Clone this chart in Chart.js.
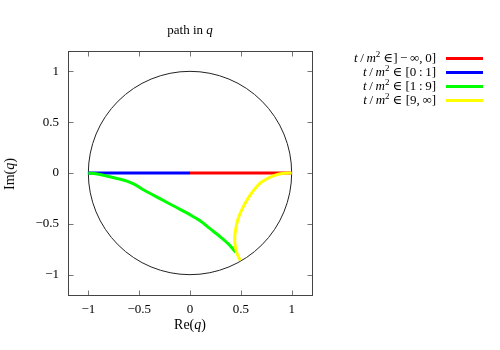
<!DOCTYPE html>
<html>
<head>
<meta charset="utf-8">
<script src="https://cdn.jsdelivr.net/npm/chart.js@4/dist/chart.umd.min.js"></script>
<style>
  body { margin: 0; background: #fff; }
  #wrap { position: relative; width: 500px; height: 350px; font-family: 'Liberation Serif', 'DejaVu Serif', serif; color: #000; }
  #wrap canvas { position: absolute; left: 0; top: 0; }
  .lbl { position: absolute; white-space: nowrap; line-height: 1; }
  .legend-row { position: absolute; height: 14px; }
  .legend-row .txt { position: absolute; right: 64px; top: 0; font-size: 13px; white-space: nowrap; line-height: 14px; }
  .legend-row .swatch { position: absolute; width: 37px; height: 3px; top: 6px; }
  sup { font-size: 9px; line-height: 0; }
</style>
</head>
<body>
<div id="wrap">
  <canvas id="chart" width="500" height="350"></canvas>
  <div class="lbl" style="left:190px; top:23px; transform:translateX(-50%); font-size:13px;">path in <i>q</i></div>
  <div class="lbl" style="left:190px; top:318px; transform:translateX(-50%); font-size:14px;">Re(<i>q</i>)</div>
  <div class="lbl" style="left:10px; top:174px; transform:translate(-50%,-50%) rotate(-90deg); font-size:14px;">Im(<i>q</i>)</div>
  <div id="legend"></div>
</div>
<script>
'use strict'

// axis ticks
const xTicks = [-1, -0.5, 0, 0.5, 1];
const yTicks = [-1, -0.5, 0, 0.5, 1];

// legend labels
const seriesNames = ['t/m² ∈]−∞,0]', 't/m² ∈ [0:1]', 't/m² ∈ [1:9]', 't/m² ∈ [9,∞]'];
const seriesHtml = [
    '<i>t</i>\u2009/\u2009<i>m</i><sup>2</sup> ∈]\u2009−\u2009∞,\u20090]',
    '<i>t</i>\u2009/\u2009<i>m</i><sup>2</sup> ∈ [0\u2009:\u20091]',
    '<i>t</i>\u2009/\u2009<i>m</i><sup>2</sup> ∈ [1\u2009:\u20099]',
    '<i>t</i>\u2009/\u2009<i>m</i><sup>2</sup> ∈ [9,\u2009∞]'
];
const seriesColors = ['#ff0000', '#0000ff', '#00ff00', '#ffff00'];

// path pieces (Re q, Im q)
const redRe = [0, 1];
const redIm = [0, 0];
const blueRe = [-1, 0];
const blueIm = [0, 0];
const greenRe = [-1, -0.9, -0.8, -0.7, -0.62, -0.55, -0.45, -0.3, -0.15, 0, 0.1, 0.2, 0.3, 0.38, 0.45];
const greenIm = [0, -0.012, -0.035, -0.058, -0.08, -0.11, -0.17, -0.25, -0.33, -0.41, -0.47, -0.55, -0.63, -0.7, -0.78];
const yellowRe = [0.495, 0.465, 0.447, 0.44, 0.445, 0.47, 0.51, 0.59, 0.69, 0.78, 0.86, 0.93, 1];
const yellowIm = [-0.862, -0.8, -0.73, -0.66, -0.58, -0.46, -0.36, -0.22, -0.1, -0.045, -0.015, -0.003, 0];

// unit circle
const circleCenter = [0, 0];
const circleRadius = 1;

const toPoints = (xs, ys) => xs.map((x, i) => ({ x: x, y: ys[i] }));
const pieces = [[redRe, redIm], [blueRe, blueIm], [greenRe, greenIm], [yellowRe, yellowIm]];

const fmt = v => (v < 0 ? '\u2212' + Math.abs(v) : String(v));
const tickFont = { family: "'Liberation Serif', 'DejaVu Serif', serif", size: 13 };

// frame, inward ticks and the circle
const framePlugin = {
    id: 'frame',
    beforeDatasetsDraw(chart) {
        const { ctx, scales: { x, y } } = chart;
        ctx.save();
        const cx = x.getPixelForValue(circleCenter[0]);
        const cy = y.getPixelForValue(circleCenter[1]);
        const rx = Math.abs(x.getPixelForValue(circleCenter[0] + circleRadius) - cx);
        const ry = Math.abs(y.getPixelForValue(circleCenter[1] + circleRadius) - cy);
        ctx.strokeStyle = '#222';
        ctx.lineWidth = 1;
        ctx.beginPath();
        ctx.ellipse(cx, cy, rx, ry, 0, 0, Math.PI * 2);
        ctx.stroke();
        ctx.restore();
    },
    afterDraw(chart) {
        const { ctx, chartArea: a, scales: { x, y } } = chart;
        const L = Math.round(a.left) + 0.5, R = Math.round(a.right) + 0.5;
        const T = Math.round(a.top) + 0.5, B = Math.round(a.bottom) + 0.5;
        const len = 5;
        ctx.save();
        ctx.lineWidth = 1;
        ctx.strokeStyle = '#777';
        ctx.beginPath();
        xTicks.forEach(v => {
            const px = Math.round(x.getPixelForValue(v)) + 0.5;
            ctx.moveTo(px, B); ctx.lineTo(px, B - len);
            ctx.moveTo(px, T); ctx.lineTo(px, T + len);
        });
        yTicks.forEach(v => {
            const py = Math.round(y.getPixelForValue(v)) + 0.5;
            ctx.moveTo(L, py); ctx.lineTo(L + len, py);
            ctx.moveTo(R, py); ctx.lineTo(R - len, py);
        });
        ctx.stroke();
        ctx.strokeStyle = '#444';
        ctx.strokeRect(L, T, R - L, B - T);
        ctx.restore();
    }
};

new Chart(document.getElementById('chart'), {
    type: 'scatter',
    data: {
        datasets: pieces.map((p, i) => ({
            label: seriesNames[i],
            data: toPoints(p[0], p[1]),
            showLine: true,
            borderColor: seriesColors[i],
            backgroundColor: seriesColors[i],
            borderWidth: 3,
            pointRadius: 0,
            tension: 0.3,
            order: 3 - i
        }))
    },
    options: {
        responsive: false,
        animation: false,
        layout: { padding: { top: 51, right: 188, left: 0, bottom: 0 } },
        plugins: {
            legend: { display: false },
            tooltip: { enabled: false },
            title: { display: false }
        },
        scales: {
            x: {
                type: 'linear',
                min: -1.2,
                max: 1.2,
                grid: { display: false, drawTicks: false },
                border: { display: false },
                ticks: { font: tickFont, color: '#000', padding: 7, callback: fmt, maxRotation: 0 },
                afterBuildTicks: s => { s.ticks = xTicks.map(v => ({ value: v })); },
                afterFit: s => { s.height = 55; }
            },
            y: {
                type: 'linear',
                min: -1.2,
                max: 1.2,
                grid: { display: false, drawTicks: false },
                border: { display: false },
                ticks: { font: tickFont, color: '#000', padding: 9, callback: fmt },
                afterBuildTicks: s => { s.ticks = yTicks.map(v => ({ value: v })); },
                afterFit: s => { s.width = 68; }
            }
        }
    },
    plugins: [framePlugin]
});

// legend: text right-aligned, line sample on the right
const legendEl = document.getElementById('legend');
seriesHtml.forEach((h, i) => {
    const row = document.createElement('div');
    row.className = 'legend-row';
    row.style.left = '0px';
    row.style.width = '500px';
    row.style.top = (51 + i * 14) + 'px';
    row.innerHTML = '<span class="txt">' + h + '</span>' +
        '<span class="swatch" style="left:446px;background:' + seriesColors[i] + '"></span>';
    legendEl.appendChild(row);
});
</script>
</body>
</html>
